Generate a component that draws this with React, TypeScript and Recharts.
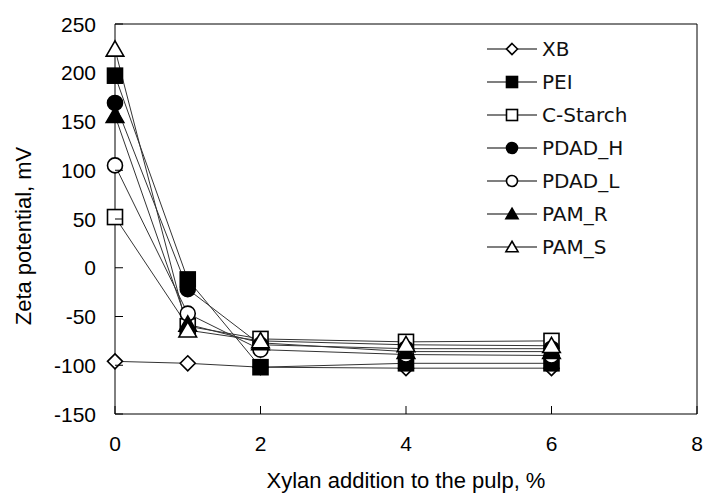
import React from "react";
import {
  Label,
  Legend,
  Line,
  LineChart,
  ReferenceLine,
  XAxis,
  YAxis,
} from "recharts";

// xylan addition, %
const xylan = [0, 1, 2, 4, 6];

const xb = [-96, -98, -102, -103, -103];
const pei = [197, -12, -102, -98, -98];
const cStarch = [52, -60, -73, -76, -75];
const pdadH = [169, -22, -79, -83, -83];
const pdadL = [105, -47, -84, -89, -90];
const pamR = [156, -58, -77, -86, -86];
const pamS = [224, -64, -75, -79, -80];

const xTicks = [0, 2, 4, 6, 8];
const yTicks = [-150, -100, -50, 0, 50, 100, 150, 200, 250];

type Shape = "diamond" | "square" | "circle" | "triangle";

const SERIES: { key: string; label: string; values: number[]; shape: Shape; filled: boolean }[] = [
  { key: "xb", label: "XB", values: xb, shape: "diamond", filled: false },
  { key: "pei", label: "PEI", values: pei, shape: "square", filled: true },
  { key: "cs", label: "C-Starch", values: cStarch, shape: "square", filled: false },
  { key: "pdh", label: "PDAD_H", values: pdadH, shape: "circle", filled: true },
  { key: "pdl", label: "PDAD_L", values: pdadL, shape: "circle", filled: false },
  { key: "pamr", label: "PAM_R", values: pamR, shape: "triangle", filled: true },
  { key: "pams", label: "PAM_S", values: pamS, shape: "triangle", filled: false },
];

const data = xylan.map((x, i) => {
  const row: Record<string, number> = { x };
  SERIES.forEach((s) => (row[s.key] = s.values[i]));
  return row;
});

const FONT = "'Liberation Sans', Arial, sans-serif";

function Marker({ cx, cy, shape, filled, size }: { cx: number; cy: number; shape: Shape; filled: boolean; size: number }) {
  const fill = filled ? "#000" : "#fff";
  const h = size / 2;
  const common = { fill, stroke: "#000", strokeWidth: 1.6 };
  if (shape === "square") return <rect x={cx - h} y={cy - h} width={size} height={size} {...common} />;
  if (shape === "circle") return <circle cx={cx} cy={cy} r={h} {...common} />;
  if (shape === "diamond")
    return <polygon points={`${cx},${cy - h} ${cx + h},${cy} ${cx},${cy + h} ${cx - h},${cy}`} {...common} />;
  return (
    <polygon
      points={`${cx},${cy - h * 1.05} ${cx + h * 1.1},${cy + h * 0.85} ${cx - h * 1.1},${cy + h * 0.85}`}
      {...common}
    />
  );
}

function YTick({ x, y, payload }: any) {
  return (
    <g>
      <line x1={x} x2={x + 8} y1={y} y2={y} stroke="#000" />
      <text x={x - 19} y={y} dy="0.36em" textAnchor="end" fontSize={21} fontFamily={FONT} fill="#000">
        {payload.value}
      </text>
    </g>
  );
}

function XTick({ x, y, payload }: any) {
  return (
    <g>
      <line x1={x} x2={x} y1={y} y2={y - 8} stroke="#000" />
      <text x={x} y={y + 37} textAnchor="middle" fontSize={21} fontFamily={FONT} fill="#000">
        {payload.value}
      </text>
    </g>
  );
}

function renderLegend() {
  return (
    <svg width={210} height={240}>
      {SERIES.map((s, i) => {
        const y = 19 + i * 33;
        return (
          <g key={s.key}>
            <line x1={7} x2={57} y1={y} y2={y} stroke="#000" strokeWidth={1.2} />
            <Marker cx={32} cy={y} shape={s.shape} filled={s.filled} size={11} />
            <text x={62} y={y} dy="0.36em" fontSize={20} fontFamily="'DejaVu Sans', sans-serif" fill="#111">
              {s.label}
            </text>
          </g>
        );
      })}
    </svg>
  );
}

export default function App() {
  return (
    <div style={{ position: "absolute", left: 0, top: 0, background: "#fff" }}>
      <LineChart
        width={704}
        height={497}
        data={data}
        margin={{ top: 24, right: 7, bottom: 43, left: 55 }}
      >
        <XAxis
          dataKey="x"
          type="number"
          domain={[0, 8]}
          ticks={xTicks}
          tick={<XTick />}
          tickLine={false}
          tickSize={0}
          tickMargin={0}
          height={40}
          axisLine={{ stroke: "#000" }}
        >
          <Label
            content={() => (
              <text x={406} y={488} textAnchor="middle" fontSize={22} fontFamily={FONT} fill="#000">
                Xylan addition to the pulp, %
              </text>
            )}
          />
        </XAxis>
        <YAxis
          type="number"
          domain={[-150, 250]}
          ticks={yTicks}
          tick={<YTick />}
          tickLine={false}
          tickSize={0}
          tickMargin={0}
          width={60}
          axisLine={{ stroke: "#000" }}
        >
          <Label
            content={() => (
              <text
                x={0}
                y={0}
                transform="translate(31, 236) rotate(-90)"
                textAnchor="middle"
                fontSize={22}
                fontFamily={FONT}
                fill="#000"
              >
                Zeta potential, mV
              </text>
            )}
          />
        </YAxis>
        <ReferenceLine y={250} stroke="#000" />
        <ReferenceLine x={8} stroke="#000" />
        <Legend
          layout="vertical"
          align="center"
          verticalAlign="middle"
          content={renderLegend}
          wrapperStyle={{ left: 480, top: 30, width: 210, height: 240 }}
        />
        {SERIES.map((s) => (
          <Line
            key={s.key}
            dataKey={s.key}
            name={s.label}
            type="linear"
            stroke="#333"
            strokeWidth={1}
            isAnimationActive={false}
            dot={(p: any) => (
              <Marker
                key={`${s.key}-${p.index}`}
                cx={p.cx}
                cy={p.cy}
                shape={s.shape}
                filled={s.filled}
                size={s.shape === "triangle" ? 16 : 15}
              />
            )}
            activeDot={false}
          />
        ))}
      </LineChart>
    </div>
  );
}
